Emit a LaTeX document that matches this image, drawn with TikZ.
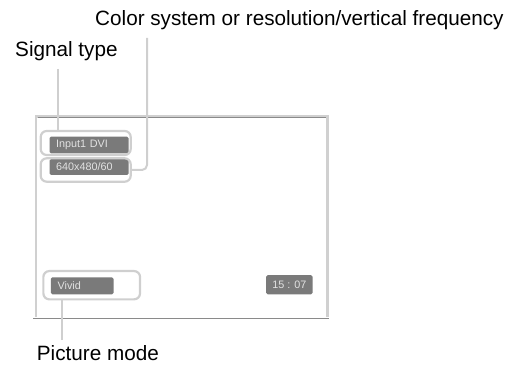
\documentclass[tikz,border=0pt]{standalone}
\usepackage{fontspec}
\setmainfont{Liberation Sans}
\definecolor{hlgray}{HTML}{CFCFCF}
\definecolor{boxgray}{HTML}{7A7A7A}
\definecolor{boxtext}{HTML}{E2E2E2}
\definecolor{framegray}{HTML}{D0D0D0}
\definecolor{edgegray}{HTML}{8A8A8A}
\begin{document}
\begin{tikzpicture}[x=1pt,y=-1pt,
  callout/.style={anchor=base west,inner sep=0pt,font=\fontsize{20.7}{24}\selectfont,text=black},
  osd/.style={fill=boxgray,rounded corners=1.5pt,anchor=west,inner ysep=0pt,inner xsep=6.7pt,
    align=left,text=boxtext,font=\fontsize{10.8}{12}\selectfont},
  hilite/.style={draw=hlgray,line width=2.2pt,rounded corners=6pt,inner sep=0pt},
  leader/.style={draw=hlgray,line width=2pt}]
\useasboundingbox (0,0) rectangle (519,366);
% screen frame
\draw[framegray,line width=2.5pt] (36.2,316.5) -- (36.2,116.5) -- (327.5,116.5) -- (327.5,316.5);
\draw[edgegray,line width=0.9pt] (37.5,117.6) -- (326.2,117.6);
\draw[edgegray,line width=1.2pt] (33,318.3) -- (329,318.3);
% OSD boxes
\node[osd,text width=65.6pt,minimum height=16.6pt] (sig) at (49.3,145) {Input1 DVI};
\node[osd,text width=65.6pt,minimum height=16pt] (res) at (49.3,167) {640x480/60};
\node[osd,text width=49.2pt,minimum height=17pt] (pic) at (50.7,285.8) {Vivid};
\node[osd,inner xsep=0pt,minimum width=46.3pt,minimum height=19.3pt] (clk) at (266,284.7) {15 : 07};
% highlights
\node[hilite,minimum width=90pt,minimum height=24pt] (hsig) at (85.7,143) {};
\node[hilite,minimum width=90pt,minimum height=23.4pt] (hres) at (85.7,170) {};
\node[hilite,minimum width=96.7pt,minimum height=28.3pt] (hpic) at (91.7,285.2) {};
% callout texts
\node[callout] (tres) at (95,26) {Color system or resolution/vertical frequency};
\node[callout] (tsig) at (15,56.7) {Signal type};
\node[callout] (tpic) at (36.7,360) {Picture mode};
% leader ends
\coordinate (csig) at (58.3,69);
\coordinate (cres) at (147,38);
\coordinate (cpic) at (62,340);
\draw[leader] (csig) -- (csig |- hsig.north);
\draw[leader,rounded corners=5pt] (cres) -- (cres |- hres.east) -- (hres.east);
\draw[leader] (cpic) -- (cpic |- hpic.south);
\end{tikzpicture}
\end{document}
